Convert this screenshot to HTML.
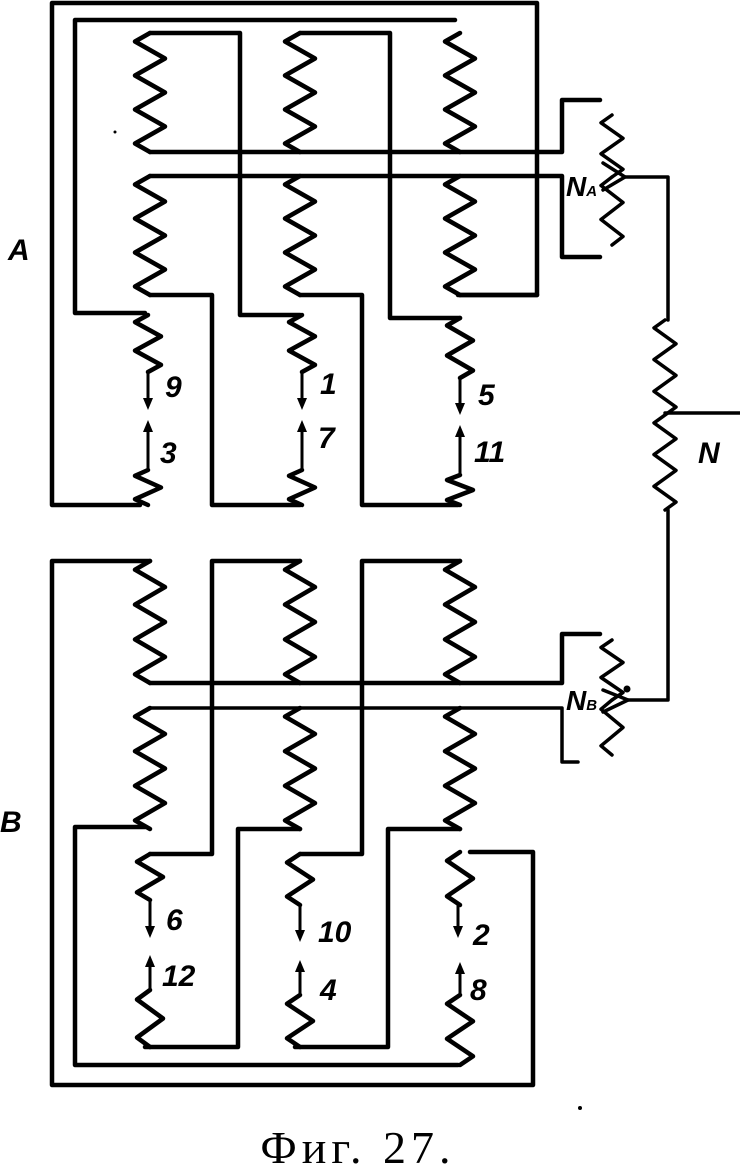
<!DOCTYPE html>
<html><head><meta charset="utf-8"><style>
html,body{margin:0;padding:0;background:#fff;}
svg{display:block}
.l{font-family:"Liberation Sans",sans-serif;font-style:italic;font-weight:bold;font-size:30px;fill:#000}
</style></head><body>
<svg id="s" width="740" height="1176" viewBox="0 0 740 1176" xmlns="http://www.w3.org/2000/svg">
<g id="g" fill="none" stroke="#000" stroke-width="4.5" stroke-linejoin="round" stroke-linecap="round">
<!-- A frames -->
<path d="M140 505 H52 V3 H537 V295 H458"/>
<path d="M145 313 H75 V20 H455"/>
<path d="M150 33 H240 V315 H300"/>
<path d="M300 33 H390 V318 H460"/>
<path d="M150 152 H562 V100 H600"/>
<path d="M150 176 H562 V257 H600"/>
<path d="M150 295 H212 V505 H300"/>
<path d="M300 295 H362 V505 H458"/>
<path d="M460 295 H537"/>
<path d="M603 163 L625 177 L603 190" stroke-width="3.5"/>
<path d="M625 177 H668 V320" stroke-width="3.5"/>
<path d="M665 413 H740" stroke-width="3.5"/>
<!-- B frames -->
<path d="M150 561 H52 V1085 H533 V852 H470"/>
<path d="M145 827 H75 V1065 H458"/>
<path d="M300 561 H212 V854 H150"/>
<path d="M460 561 H362 V854 H300"/>
<path d="M150 683 H562 V634 H600"/>
<path d="M150 708 H562 V762 H578" stroke-width="3.5"/>
<path d="M300 829 H238 V1047 H145"/>
<path d="M460 829 H388 V1047 H295"/>
<path d="M603 690 L628 700 L603 712" stroke-width="3.5"/>
<path d="M628 700 H668 V510" stroke-width="3.5"/>
<!-- arrows shafts -->
<path d="M148 372 V400 M148 470 V430 M302 372 V400 M302 470 V430 M460 378 V405 M460 475 V435
M150 900 V928 M150 990 V965 M300 905 V932 M300 995 V970 M458 905 V928 M460 995 V972" stroke-width="3"/>
</g>
<g fill="#000">
<path d="M143 398 L148 410 L153 398Z"/><path d="M143 432 L148 420 L153 432Z"/>
<path d="M297 398 L302 410 L307 398Z"/><path d="M297 432 L302 420 L307 432Z"/>
<path d="M455 403 L460 415 L465 403Z"/><path d="M455 437 L460 425 L465 437Z"/>
<path d="M145 926 L150 938 L155 926Z"/><path d="M145 967 L150 955 L155 967Z"/>
<path d="M295 930 L300 942 L305 930Z"/><path d="M295 972 L300 960 L305 972Z"/>
<path d="M453 926 L458 938 L463 926Z"/><path d="M455 974 L460 962 L465 974Z"/>
</g>
<circle cx="627" cy="689" r="3.5" fill="#000"/>
<circle cx="580" cy="1108" r="2" fill="#000"/>
<circle cx="115" cy="132" r="1.5" fill="#000"/>
<text class="l" x="165" y="397">9</text>
<text class="l" x="160" y="463">3</text>
<text class="l" x="320" y="394">1</text>
<text class="l" x="318" y="448">7</text>
<text class="l" x="478" y="405">5</text>
<text class="l" x="474" y="462">11</text>
<text class="l" x="698" y="463">N</text>
<text class="l" x="8" y="260">A</text>
<text class="l" x="0" y="832">B</text>
<text class="l" x="166" y="930">6</text>
<text class="l" x="162" y="986">12</text>
<text class="l" x="318" y="942">10</text>
<text class="l" x="320" y="1000">4</text>
<text class="l" x="473" y="945">2</text>
<text class="l" x="470" y="1000">8</text>
<text class="l" x="566" y="196" style="font-size:28px">N<tspan style="font-size:15px">A</tspan></text>
<text class="l" x="566" y="710" style="font-size:28px">N<tspan style="font-size:15px">B</tspan></text>
<text x="358" y="1163" text-anchor="middle" style="font-family:'Liberation Serif',serif;font-size:46px;letter-spacing:5px">Фиг. 27.</text>
</svg>
<script>
var g=document.getElementById('g');
function zz(cx,y1,y2,n,a,sw){
  var h=(y2-y1)/(2*n), d='M'+cx+' '+y1, px=cx, py=y1;
  for(var i=0;i<2*n;i++){
    var xx=(i%2==0)?cx-a:cx+a, yy=y1+h*(i+0.5);
    d+=' L'+xx+' '+yy.toFixed(1);
  }
  d+=' L'+cx+' '+y2;
  var p=document.createElementNS('http://www.w3.org/2000/svg','path');
  p.setAttribute('d',d);
  if(sw)p.setAttribute('stroke-width',sw);
  g.appendChild(p);
}
[150,300,460].forEach(function(c){zz(c,33,152,3.5,15);zz(c,176,295,3.5,15);});
zz(148,315,372,2,13);zz(148,470,505,1.5,13);
zz(302,315,372,2,13);zz(302,470,505,1.5,13);
zz(460,318,378,2,13);zz(460,475,505,1.5,13);
zz(612,115,177,2,11,3.5);zz(612,177,245,2,11,3.5);
zz(665,320,510,6,11,3.5);
[150,300,460].forEach(function(c){zz(c,561,683,3.5,15);zz(c,708,829,3.5,15);});
zz(150,854,900,1.5,13);zz(150,990,1047,1.5,13);
zz(300,854,905,1.5,13);zz(300,995,1047,1.5,13);
zz(460,852,905,1.5,13);zz(460,995,1065,2,13);
zz(612,640,700,2,11,3.5);zz(612,700,755,1.5,11,3.5);
</script>
</body></html>
